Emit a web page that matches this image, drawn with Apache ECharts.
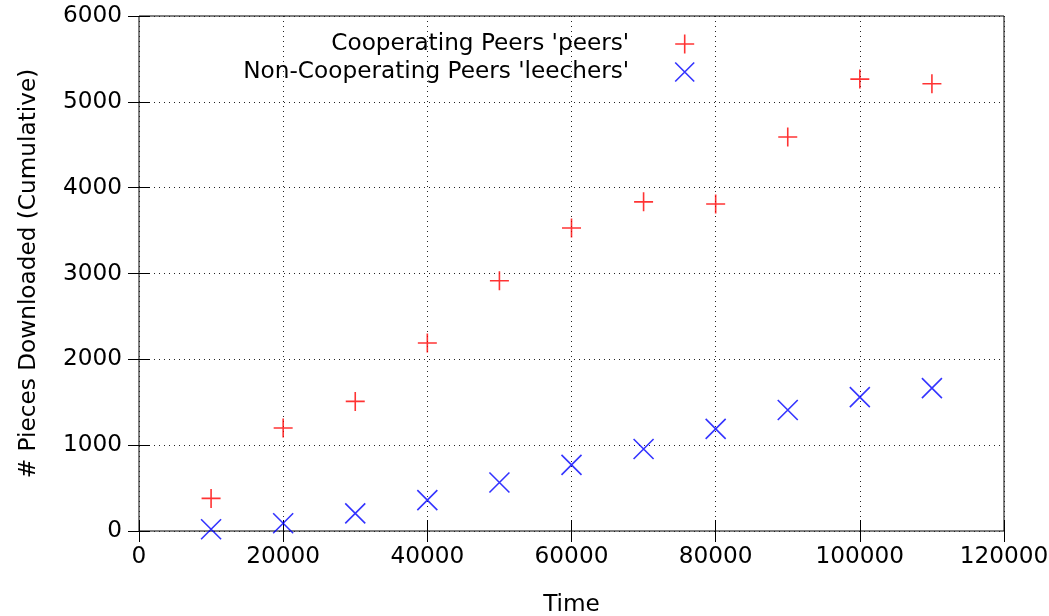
<!DOCTYPE html>
<html>
<head>
<meta charset="utf-8">
<script src="https://cdn.jsdelivr.net/npm/echarts@6/dist/echarts.min.js"></script>
<style>
  html, body { margin: 0; padding: 0; background: #fff; overflow: hidden; }
  #chart { width: 1049px; height: 616px; }
</style>
</head>
<body>
<div id="chart"></div>
<script>
// Sample times (x) shared by both series
const times = [10000, 20000, 30000, 40000, 50000, 60000, 70000, 80000, 90000, 100000, 110000];
// Cumulative pieces downloaded by cooperating peers
const peers = [380, 1200, 1510, 2190, 2915, 3530, 3835, 3810, 4590, 5265, 5210];
// Cumulative pieces downloaded by non-cooperating leechers
const leechers = [20, 90, 205, 360, 565, 770, 955, 1190, 1410, 1560, 1665];

const xTicks = { min: 0, max: 120000, interval: 20000 };
const yTicks = { min: 0, max: 6000, interval: 1000 };

const FONT = 'DejaVu Sans';
const FS = 23.2;
const PLUS = 'path://M5,0L5,10M0,5L10,5';
const CROSS = 'path://M0,0L10,10M10,0L0,10';
const RED = '#ff0000';
const BLUE = '#0000ff';

const pairs = (xs, ys) => xs.map((x, i) => [x, ys[i]]);
const plain = v => String(v);

const gridLine = { show: true, lineStyle: { color: '#222', width: 1, type: [1, 4] } };
const tick = { show: true, inside: true, length: 11, lineStyle: { color: '#000', width: 1 } };

const chart = echarts.init(document.getElementById('chart'));
chart.setOption({
  animation: false,
  backgroundColor: '#fff',
  grid: {
    left: 139, top: 16, right: 45, bottom: 85,
    outerBoundsMode: 'none',
    containLabel: false,
    show: true, borderColor: '#000', borderWidth: 1, backgroundColor: 'transparent'
  },
  legend: {
    orient: 'vertical',
    align: 'right',
    right: 349,
    top: 27,
    itemWidth: 19,
    itemHeight: 19,
    itemGap: 4,
    textStyle: { fontFamily: FONT, fontSize: FS, color: '#000', lineHeight: 24, padding: [0, 41, 0, 0] },
    data: [
      { name: "Cooperating Peers 'peers'",
        itemStyle: { color: 'transparent', borderColor: RED, borderWidth: 1.6 } },
      { name: "Non-Cooperating Peers 'leechers'",
        itemStyle: { color: 'transparent', borderColor: BLUE, borderWidth: 1.6 } }
    ]
  },
  xAxis: [{
    type: 'value', position: 'bottom', ...xTicks,
    name: 'Time', nameLocation: 'middle', nameGap: 62,
    nameTextStyle: { fontFamily: FONT, fontSize: FS, color: '#000' },
    axisLine: { show: false },
    axisTick: tick,
    splitLine: gridLine,
    axisLabel: { fontFamily: FONT, fontSize: FS, color: '#000', margin: 14, formatter: plain }
  }, {
    type: 'value', position: 'top', ...xTicks,
    axisLine: { show: false }, axisTick: tick,
    splitLine: { show: false }, axisLabel: { show: false }
  }],
  yAxis: [{
    type: 'value', position: 'left', ...yTicks,
    name: '# Pieces Downloaded (Cumulative)', nameLocation: 'middle', nameGap: 99,
    nameTextStyle: { fontFamily: FONT, fontSize: FS, color: '#000' },
    axisLine: { show: false },
    axisTick: tick,
    splitLine: gridLine,
    axisLabel: { fontFamily: FONT, fontSize: FS, color: '#000', margin: 17, formatter: plain }
  }, {
    type: 'value', position: 'right', ...yTicks,
    axisLine: { show: false }, axisTick: tick,
    splitLine: { show: false }, axisLabel: { show: false }
  }],
  series: [{
    name: "Cooperating Peers 'peers'",
    type: 'scatter',
    symbol: PLUS,
    symbolSize: 19,
    itemStyle: { color: 'transparent', borderColor: RED, borderWidth: 1.6 },
    data: pairs(times, peers)
  }, {
    name: "Non-Cooperating Peers 'leechers'",
    type: 'scatter',
    symbol: CROSS,
    symbolSize: 20,
    itemStyle: { color: 'transparent', borderColor: BLUE, borderWidth: 1.6 },
    data: pairs(times, leechers)
  }]
});
</script>
</body>
</html>
